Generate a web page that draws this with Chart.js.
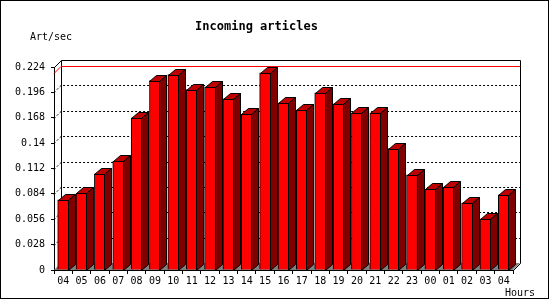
<!DOCTYPE html>
<html>
<head>
<meta charset="utf-8">
<script src="https://cdn.jsdelivr.net/npm/chart.js@4.4.1/dist/chart.umd.min.js"></script>
<style>
  html, body { margin: 0; padding: 0; background: #fff; }
  #wrap { width: 550px; height: 300px; }
</style>
</head>
<body>
<div id="wrap"><canvas id="c" width="550" height="300"></canvas></div>
<script>
// Incoming articles per hour (news server stats)
const hours = ["04", "05", "06", "07", "08", "09", "10", "11", "12", "13", "14", "15", "16",
               "17", "18", "19", "20", "21", "22", "23", "00", "01", "02", "03", "04"];
const artPerSec = [0.0775, 0.0845, 0.106, 0.120, 0.168, 0.209, 0.2155, 0.199, 0.202, 0.189, 0.172, 0.2177, 0.1845,
                   0.1767, 0.1956, 0.1834, 0.1734, 0.1734, 0.1339, 0.1051, 0.0893, 0.0915, 0.0741, 0.0564, 0.083];
const yMax = 0.224;
const yStep = 0.028;

const FONT = "'DejaVu Sans Mono', 'Liberation Mono', monospace";
const DEPTH = 7;      // wall depth (px)
const BAR_DX = 7, BAR_DY = 6;

// back wall, floor, dotted grid and the red max line (behind bars)
const wallPlugin = {
  id: "wall",
  beforeDatasetsDraw(chart) {
    const { ctx, chartArea: a, scales: { y } } = chart;
    const L = a.left, R = a.right, T = a.top, B = a.bottom, d = DEPTH;
    ctx.save();
    ctx.lineWidth = 1;
    // floor
    ctx.fillStyle = "#808080";
    ctx.beginPath();
    ctx.moveTo(L, B); ctx.lineTo(L + d, B - d); ctx.lineTo(R + d, B - d); ctx.lineTo(R, B);
    ctx.closePath(); ctx.fill();
    // dotted grid lines
    ctx.strokeStyle = "#000";
    ctx.setLineDash([2, 2]);
    for (let v = yStep; v < yMax - 1e-9; v += yStep) {
      const py = Math.round(y.getPixelForValue(v)) + 0.5;
      ctx.beginPath();
      ctx.moveTo(L, py); ctx.lineTo(L + d, py - d); ctx.lineTo(R + d, py - d);
      ctx.stroke();
    }
    ctx.setLineDash([]);
    // back wall edges
    ctx.beginPath();
    ctx.moveTo(L + 0.5, T + 0.5); ctx.lineTo(L + d + 0.5, T - d + 0.5);
    ctx.lineTo(R + d + 0.5, T - d + 0.5); ctx.lineTo(R + d + 0.5, B - d + 0.5);
    ctx.lineTo(R + 0.5, B + 0.5);
    ctx.moveTo(L + d + 0.5, T - d + 0.5); ctx.lineTo(L + d + 0.5, B - d + 0.5);
    ctx.stroke();
    // max line
    const my = Math.round(y.getPixelForValue(Math.max(...artPerSec))) + 0.5;
    ctx.strokeStyle = "#ff0000";
    ctx.beginPath();
    ctx.moveTo(L, my); ctx.lineTo(L + d, my - d); ctx.lineTo(R + d, my - d);
    ctx.stroke();
    ctx.restore();
  },
  // 3d top and side of each bar
  afterDatasetsDraw(chart) {
    const { ctx } = chart;
    const meta = chart.getDatasetMeta(0);
    ctx.save();
    ctx.lineWidth = 1;
    ctx.strokeStyle = "#000";
    meta.data.forEach(bar => {
      const l = Math.round(bar.x - bar.width / 2) + 0.5;
      const r = Math.round(bar.x + bar.width / 2) - 0.5;
      const t = Math.round(bar.y) + 0.5;
      const b = Math.round(bar.base) + 0.5;
      ctx.fillStyle = "#c00000";
      ctx.beginPath();
      ctx.moveTo(l, t); ctx.lineTo(l + BAR_DX, t - BAR_DY); ctx.lineTo(r + BAR_DX, t - BAR_DY); ctx.lineTo(r, t);
      ctx.closePath(); ctx.fill(); ctx.stroke();
      ctx.fillStyle = "#800000";
      ctx.beginPath();
      ctx.moveTo(r, t); ctx.lineTo(r + BAR_DX, t - BAR_DY); ctx.lineTo(r + BAR_DX, b - BAR_DY); ctx.lineTo(r, b);
      ctx.closePath(); ctx.fill(); ctx.stroke();
    });
    ctx.restore();
  },
  afterDraw(chart) {
    const { ctx } = chart;
    ctx.save();
    ctx.fillStyle = "#000";
    ctx.font = "10px " + FONT;
    ctx.textBaseline = "middle";
    ctx.textAlign = "left";
    ctx.fillText("Art/sec", 30, 37);
    ctx.fillText("Hours", 505, 293);
    ctx.strokeStyle = "#000";
    ctx.lineWidth = 1;
    ctx.strokeRect(0.5, 0.5, 548, 298);
    ctx.restore();
  }
};

new Chart(document.getElementById("c"), {
  type: "bar",
  data: {
    labels: hours,
    datasets: [{
      data: artPerSec,
      backgroundColor: "#ff0000",
      borderColor: "#000",
      borderWidth: 1,
      barThickness: 11
    }]
  },
  plugins: [wallPlugin],
  options: {
    responsive: false,
    animation: false,
    layout: { padding: { left: 0, right: 37, bottom: 0 } },
    plugins: {
      legend: { display: false },
      tooltip: { enabled: false },
      title: {
        display: true, text: "Incoming articles", color: "#000",
        font: { family: FONT, size: 12, weight: "bold", lineHeight: 1.2 },
        padding: { top: 20, bottom: 32.6 }
      }
    },
    scales: {
      x: {
        offset: true,
        grid: { offset: true, drawOnChartArea: false, tickLength: 4, color: "#000" },
        border: { color: "#000", width: 1 },
        ticks: { color: "#000", font: { family: FONT, size: 10 }, padding: 1, maxRotation: 0, autoSkip: false },
        afterFit(s) { s.height = 30; }
      },
      y: {
        min: 0, max: yMax,
        grid: { drawOnChartArea: false, tickLength: 3, color: "#000" },
        border: { color: "#000", width: 1 },
        ticks: {
          stepSize: yStep, color: "#000", padding: 6,
          font: { family: FONT, size: 10 },
          callback: v => String(Number(v.toFixed(3)))
        },
        afterFit(s) { s.width = 54; }
      }
    }
  }
});
</script>
</body>
</html>
